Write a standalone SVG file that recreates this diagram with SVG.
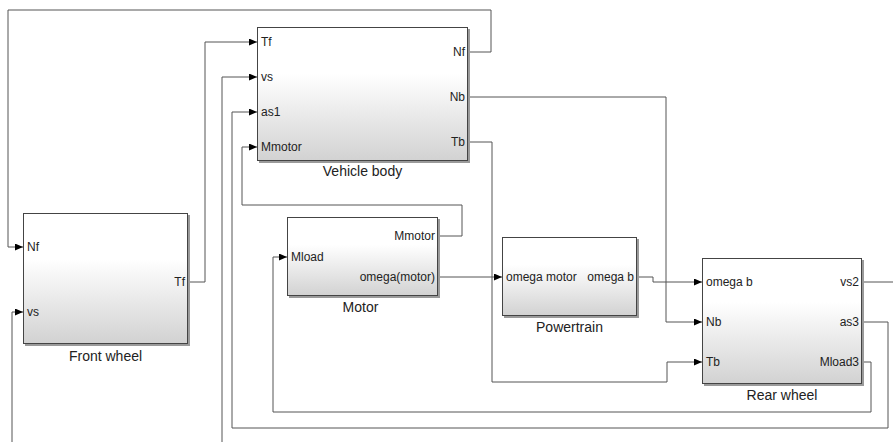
<svg xmlns="http://www.w3.org/2000/svg" width="893" height="442" viewBox="0 0 893 442">
<defs>
<linearGradient id="g" x1="0" y1="0" x2="0" y2="1">
<stop offset="0" stop-color="#ffffff"/>
<stop offset="0.35" stop-color="#ffffff"/>
<stop offset="1" stop-color="#d2d2d2"/>
</linearGradient>
<marker id="arr" markerUnits="userSpaceOnUse" markerWidth="9" markerHeight="8" refX="8" refY="3.5" orient="auto">
<path d="M0,0 L8,3.5 L0,7 z" fill="#000"/>
</marker>
<style>
.blk{fill:url(#g);stroke:#444;stroke-width:1}
.sh{fill:#9a9a9a}
.pt{font-family:"Liberation Sans",Arial,sans-serif;font-size:12px;fill:#222}
.lb{font-family:"Liberation Sans",Arial,sans-serif;font-size:14px;fill:#222;text-anchor:middle}
.r{text-anchor:end}
.c{fill:none;stroke:#555;stroke-width:1}
.a{marker-end:url(#arr)}
</style>
</defs>
<rect width="893" height="442" fill="#fff"/>
<g id="connectors">
<path class="c a" d="M468,52 H491 V10 H8 V247 H23"/>
<path class="c a" d="M188,282 H205 V42 H257"/>
<path class="c a" d="M222,442 V77 H257"/>
<path class="c a" d="M12,442 V312 H23"/>
<path class="c a" d="M862,322 H888 V428 H232 V112 H257"/>
<path class="c a" d="M438,236 H462 V205 H242 V147 H257"/>
<path class="c a" d="M862,362 H871 V412 H273 V257 H287"/>
<path class="c a" d="M438,277 H502"/>
<path class="c a" d="M637,277 H653 V282 H702"/>
<path class="c a" d="M468,97 H666 V322 H702"/>
<path class="c a" d="M468,142 H492 V382 H667 V362 H702"/>
<path class="c" d="M862,282 H893"/>
</g>
<g id="vehicle-body">
<rect class="sh" x="259" y="29" width="211" height="134"/>
<rect class="blk" x="257.5" y="27.5" width="210" height="133"/>
<text class="pt" x="261" y="46">Tf</text>
<text class="pt" x="261" y="81">vs</text>
<text class="pt" x="261" y="116">as1</text>
<text class="pt" x="261" y="151">Mmotor</text>
<text class="pt r" x="465" y="56">Nf</text>
<text class="pt r" x="465" y="101">Nb</text>
<text class="pt r" x="465" y="146">Tb</text>
<text class="lb" x="362.5" y="176">Vehicle body</text>
</g>
<g id="front-wheel">
<rect class="sh" x="25" y="215" width="165" height="131"/>
<rect class="blk" x="23.5" y="213.5" width="164" height="130"/>
<text class="pt" x="27" y="251">Nf</text>
<text class="pt" x="27" y="316">vs</text>
<text class="pt r" x="185" y="286">Tf</text>
<text class="lb" x="105.5" y="361">Front wheel</text>
</g>
<g id="motor">
<rect class="sh" x="289" y="219" width="151" height="79"/>
<rect class="blk" x="287.5" y="217.5" width="150" height="78"/>
<text class="pt" x="291" y="261">Mload</text>
<text class="pt r" x="435" y="240">Mmotor</text>
<text class="pt r" x="435" y="281">omega(motor)</text>
<text class="lb" x="360.5" y="312">Motor</text>
</g>
<g id="powertrain">
<rect class="sh" x="504" y="239" width="135" height="79"/>
<rect class="blk" x="502.5" y="237.5" width="134" height="78"/>
<text class="pt" x="506" y="281">omega motor</text>
<text class="pt r" x="634" y="281">omega b</text>
<text class="lb" x="569.5" y="332">Powertrain</text>
</g>
<g id="rear-wheel">
<rect class="sh" x="704" y="260" width="160" height="126"/>
<rect class="blk" x="702.5" y="258.5" width="159" height="125"/>
<text class="pt" x="706" y="286">omega b</text>
<text class="pt" x="706" y="326">Nb</text>
<text class="pt" x="706" y="366">Tb</text>
<text class="pt r" x="859" y="286">vs2</text>
<text class="pt r" x="859" y="326">as3</text>
<text class="pt r" x="859" y="366">Mload3</text>
<text class="lb" x="782" y="400">Rear wheel</text>
</g>
</svg>
